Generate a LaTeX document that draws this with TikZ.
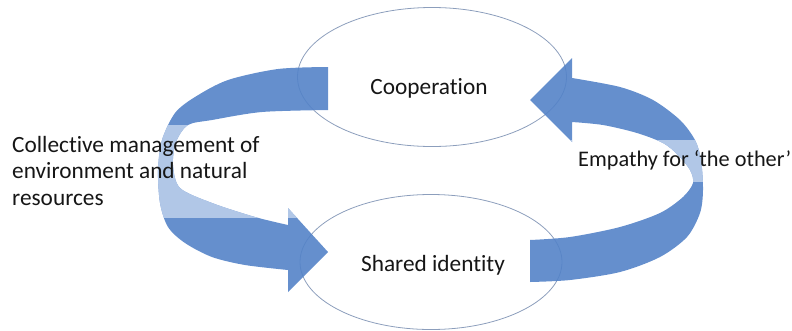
\documentclass[tikz,border=0pt]{standalone}
\usepackage{fontspec}
\setmainfont{Carlito}[Ligatures=NoCommon]
\usetikzlibrary{shapes.geometric}

\definecolor{arrowblue}{RGB}{84,131,200}
\definecolor{arrowpale}{RGB}{186,206,235}
\definecolor{rim}{RGB}{140,158,188}
\definecolor{ink}{RGB}{22,22,22}

% the two curved block arrows (outer edge, head, inner edge)
\def\leftband{plot[smooth] coordinates {(328,67) (278,69) (228,80) (195,97) (175,113) (162,140) (158,170) (160,203) (168,227) (185,243) (212,257) (245,265) (288,270)}
  -- (288,292) -- (328,252) -- (288,208)
  -- plot[smooth] coordinates {(288,225) (255,217) (212,203) (180,188) (173,165) (176,142) (188,125) (212,120) (262,112) (328,110)} -- cycle}
\def\rightband{plot[smooth] coordinates {(530,282) (570,280) (620,272) (660,257) (687,237) (700,213) (703,190) (701,160) (695,140) (680,120) (653,100) (620,87) (572,78)}
  -- (572,58) -- (530,100) -- (572,142)
  -- plot[smooth] coordinates {(572,122) (603,125) (637,133) (663,143) (678,155) (690,170) (693,183) (683,197) (660,213) (620,227) (570,237) (530,240)} -- cycle}

\begin{document}
\begin{tikzpicture}[x=1pt,y=-1pt]
\tikzstyle{state}=[ellipse, draw=rim, line width=0.8pt, inner sep=0pt]
\tikzstyle{txt}=[text=ink, font=\fontsize{23.3}{26.5}\selectfont, inner sep=0pt]
\tikzstyle{band}=[fill=arrowblue, fill opacity=0.9]
\tikzstyle{pale}=[fill=arrowpale, fill opacity=0.9]

\useasboundingbox (0,0) rectangle (792,330);

\node (coop) [state, minimum width=269pt, minimum height=139pt] at (432,77) {};
\node (ident)[state, minimum width=262pt, minimum height=135pt] at (431,262) {};

\node (cooptext) [txt, anchor=base] at (429,94) {Cooperation};
\node (identtext)[txt, anchor=base] at (433,271) {Shared identity};

% arrow bodies, with the lighter inner face in the middle
\fill[band] \leftband;
\begin{scope}
  \clip \leftband;
  \fill[pale] (140,125) rectangle (340,218);
\end{scope}
\fill[band] \rightband;
\begin{scope}
  \clip \rightband;
  \fill[pale] (520,140) rectangle (720,182);
\end{scope}

% multi-line node: base is the last line
\node (mgmt) [txt, anchor=base west, align=left] at (12,205) {Collective management of\\environment and natural\\resources};
\node (empathy) [txt, anchor=base west, font=\fontsize{22.3}{26.5}\selectfont] at (578,166) {Empathy for ‘the other’};

\end{tikzpicture}
\end{document}
